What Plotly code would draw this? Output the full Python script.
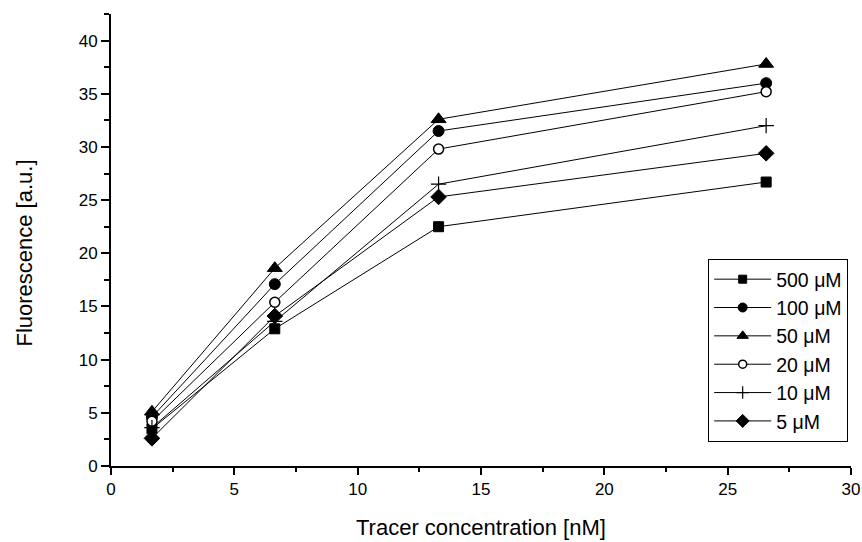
import plotly.graph_objects as go

x_conc = [1.66, 6.64, 13.28, 26.56]
series_names = ["500 μM", "100 μM", "50 μM", "20 μM", "10 μM", "5 μM"]
y_500 = [3.5, 12.9, 22.5, 26.7]
y_100 = [4.6, 17.1, 31.5, 36.0]
y_50 = [5.1, 18.6, 32.6, 37.8]
y_20 = [4.2, 15.4, 29.8, 35.2]
y_10 = [3.6, 13.6, 26.5, 32.0]
y_5 = [2.6, 14.1, 25.3, 29.4]
x_ticks = [0, 5, 10, 15, 20, 25, 30]
y_ticks = [0, 5, 10, 15, 20, 25, 30, 35, 40]

series_values = [y_500, y_100, y_50, y_20, y_10, y_5]
symbols = ["square", "circle", "triangle-up", "circle", "cross-thin", "diamond"]
fills = ["black", "black", "black", "white", "black", "black"]
sizes = [10, 11, 13, 10, 11, 12]
leg_sizes = [8, 9, 10, 8, 9, 10]

fig = go.Figure()
for i, (name, ys) in enumerate(zip(series_names, series_values)):
    sym = symbols[i]
    lw = 1.5 if fills[i] == "white" else (1.2 if sym == "cross-thin" else 1)
    fig.add_trace(go.Scatter(
        x=x_conc, y=ys, name=name, mode="lines+markers",
        legendgroup=f"g{i}", showlegend=False,
        line=dict(color="black", width=1),
        marker=dict(symbol=sym, size=sizes[i], color=fills[i],
                    line=dict(color="black", width=lw)),
        cliponaxis=False,
    ))
    # legend-only entry with smaller marker, like the reference legend
    fig.add_trace(go.Scatter(
        x=[None], y=[None], name=name, mode="lines+markers",
        legendgroup=f"g{i}", showlegend=True,
        line=dict(color="black", width=1),
        marker=dict(symbol=sym, size=leg_sizes[i], color=fills[i],
                    line=dict(color="black", width=lw)),
    ))

font_family = "Liberation Sans, Arial, sans-serif"
fig.update_layout(
    width=862, height=542,
    margin=dict(l=111, r=11, t=14, b=76, autoexpand=False),
    plot_bgcolor="white", paper_bgcolor="white",
    font=dict(family=font_family, color="black", size=17),
    showlegend=True,
    legend=dict(
        x=0.807, y=0.458, xanchor="left", yanchor="top",
        bordercolor="black", borderwidth=1, bgcolor="white",
        font=dict(size=19.5, family=font_family),
        tracegroupgap=0, itemwidth=57,
    ),
    xaxis=dict(
        range=[0, 30], tickvals=x_ticks, showgrid=False, zeroline=False,
        showline=True, linecolor="black", linewidth=2,
        ticks="outside", ticklen=7, tickwidth=2, tickcolor="black",
        minor=dict(dtick=2.5, ticks="outside", ticklen=4, tickwidth=2, tickcolor="black", showgrid=False),
        tickfont=dict(size=17),
    ),
    yaxis=dict(
        range=[0, 42.5], tickvals=y_ticks, showgrid=False, zeroline=False,
        showline=True, linecolor="black", linewidth=2,
        ticks="outside", ticklen=8, tickwidth=2, tickcolor="black",
        minor=dict(dtick=2.5, ticks="outside", ticklen=5, tickwidth=2, tickcolor="black", showgrid=False),
        tickfont=dict(size=17),
    ),
    annotations=[
        dict(text="Tracer concentration [nM]", xref="paper", yref="paper", x=0.5, y=0,
             yshift=-61, xanchor="center", yanchor="middle", showarrow=False,
             font=dict(size=22, family=font_family)),
        dict(text="Fluorescence [a.u.]", xref="paper", yref="paper", x=0, y=0.47,
             xshift=-86, xanchor="center", yanchor="middle", textangle=-90, showarrow=False,
             font=dict(size=22, family=font_family)),
    ],
)

fig.write_html("out.html")
